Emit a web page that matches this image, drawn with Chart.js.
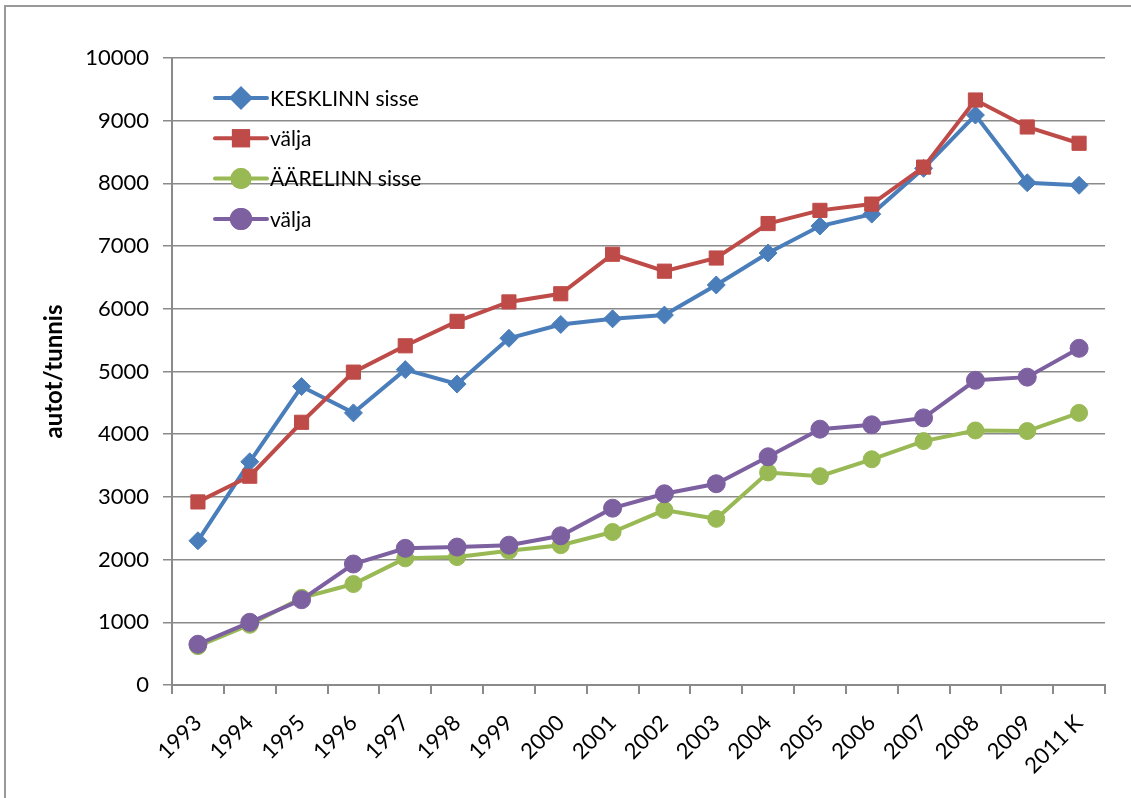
<!DOCTYPE html>
<html>
<head>
<meta charset="utf-8">
<script src="https://cdn.jsdelivr.net/npm/chart.js@4.4.3/dist/chart.umd.min.js"></script>
<style>
  html, body { margin: 0; padding: 0; background: #fff; }
  #wrap { width: 1131px; height: 798px; position: relative; }
</style>
</head>
<body>
<div id="wrap"><canvas id="chart" width="1131" height="798"></canvas></div>
<script>
const years = ["1993", "1994", "1995", "1996", "1997", "1998", "1999", "2000", "2001",
  "2002", "2003", "2004", "2005", "2006", "2007", "2008", "2009", "2011 K"];

// KESKLINN
const kesklinnSisse = [2300, 3560, 4760, 4340, 5030, 4800, 5530, 5750, 5840,
  5900, 6380, 6890, 7320, 7510, 8240, 9090, 8010, 7970];
const kesklinnValja = [2920, 3330, 4190, 4990, 5410, 5800, 6110, 6240, 6870,
  6600, 6810, 7360, 7570, 7670, 8260, 9330, 8900, 8640];

// ÄÄRELINN
const aarelinnSisse = [620, 960, 1390, 1610, 2020, 2040, 2140, 2230, 2440,
  2790, 2650, 3390, 3330, 3600, 3890, 4060, 4050, 4340];
const aarelinnValja = [650, 1000, 1360, 1930, 2180, 2200, 2230, 2380, 2820,
  3050, 3210, 3640, 4080, 4150, 4260, 4860, 4910, 5370];

const yTicks = [0, 1000, 2000, 3000, 4000, 5000, 6000, 7000, 8000, 9000, 10000];

const FONT = "Lato, 'Open Sans', sans-serif";
const GRID = "#8a8a8a";

function series(label, data, color, style, radius, order) {
  return {
    label, data,
    borderColor: color,
    backgroundColor: color,
    pointBackgroundColor: color,
    pointBorderColor: color,
    pointStyle: style,
    pointRadius: radius,
    pointBorderWidth: 1,
    borderWidth: 4,
    tension: 0,
    order
  };
}

// outer frame + legend drawn inside the plot area
const extras = {
  id: "extras",
  beforeDraw(chart) {
    const c = chart.ctx;
    c.save();
    c.strokeStyle = "#999";
    c.lineWidth = 2;
    c.strokeRect(5, 6, 3000, 3000);
    c.restore();
  },
  afterDraw(chart) {
    const c = chart.ctx;
    c.save();
    chart.data.datasets.forEach((ds, i) => {
      const y = 98 + i * 40.3;
      c.strokeStyle = ds.borderColor;
      c.lineWidth = 4;
      c.lineCap = "round";
      c.beginPath();
      c.moveTo(215, y);
      c.lineTo(267, y);
      c.stroke();
      c.fillStyle = ds.borderColor;
      Chart.helpers.drawPoint(c, {
        pointStyle: ds.pointStyle, radius: ds.pointRadius, rotation: 0, borderWidth: 1
      }, 241, y);
      c.fill();
      c.stroke();
      c.fillStyle = "#000";
      c.font = "21px " + FONT;
      c.textBaseline = "middle";
      c.textAlign = "left";
      c.fillText(ds.label, 270, y + 1);
    });
    c.restore();
  }
};

new Chart(document.getElementById("chart"), {
  type: "line",
  data: {
    labels: years,
    datasets: [
      series("KESKLINN sisse", kesklinnSisse, "#4a7ebb", "rectRot", 9, 4),
      series("välja", kesklinnValja, "#be4b48", "rect", 10, 3),
      series("ÄÄRELINN sisse", aarelinnSisse, "#98b954", "circle", 8.5, 2),
      series("välja", aarelinnValja, "#7d60a0", "circle", 9, 1)
    ]
  },
  options: {
    responsive: false,
    animation: false,
    layout: { padding: { left: 0, top: 58, right: 26, bottom: 0 } },
    plugins: { legend: { display: false }, tooltip: { enabled: false } },
    scales: {
      x: {
        offset: true,
        afterFit(s) { s.height = 113; },
        border: { color: GRID, width: 2 },
        grid: { offset: true, drawOnChartArea: false, color: GRID, lineWidth: 2, tickLength: 9 },
        ticks: {
          autoSkip: false, maxRotation: 45, minRotation: 45,
          color: "#000", font: { family: FONT, size: 22 }, padding: 16
        }
      },
      y: {
        min: 0, max: 10000,
        afterFit(s) { s.width = 172; },
        afterBuildTicks(s) { s.ticks = yTicks.map(v => ({ value: v })); },
        border: { color: GRID, width: 2 },
        grid: { color: GRID, lineWidth: 1.5, tickLength: 9 },
        ticks: {
          color: "#000", font: { family: FONT, size: 22 }, padding: 14,
          callback: (v) => String(v)
        },
        title: {
          display: true, text: "autot/tunnis", color: "#000",
          font: { family: FONT, size: 24, weight: "bold" },
          padding: { top: 40, bottom: 0 }
        }
      }
    }
  },
  plugins: [extras]
});
</script>
</body>
</html>
